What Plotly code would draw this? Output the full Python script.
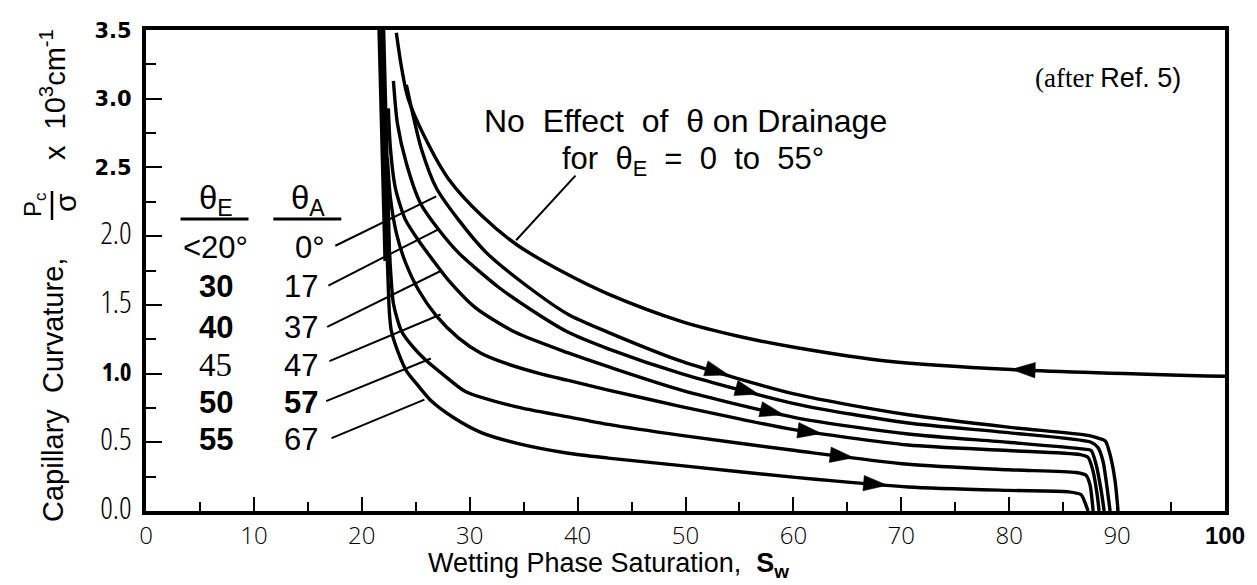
import numpy as np
import plotly.graph_objects as go

# ---------------- data ----------------
# primary drainage curve
drain_sw = [23.2, 23.7, 24.3, 25.9, 28.0, 31.1, 34.5, 39.1, 42.8, 49.6, 55.0, 60.2, 68.8, 80.2, 100.0]
drain_pc = [3.48, 3.22, 3.00, 2.71, 2.42, 2.15, 1.93, 1.72, 1.58, 1.38, 1.27, 1.19, 1.09, 1.03, 0.98]

# imbibition curves, theta_A = 0, 17, 37, 47, 57, 67 deg
imb0_sw = [24.13, 24.69, 25.50, 26.91, 28.95, 31.54, 35.43, 39.14, 42.84, 49.61, 60.17, 70.64, 79.90, 87.31, 88.24, 88.90, 89.35, 89.81, 90.09]
imb0_pc = [3.10, 2.90, 2.64, 2.35, 2.12, 1.88, 1.63, 1.43, 1.30, 1.09, 0.85, 0.70, 0.61, 0.55, 0.53, 0.51, 0.41, 0.22, 0.0]

imb17_sw = [22.93, 23.30, 24.13, 25.43, 27.10, 28.95, 32.65, 36.36, 39.14, 42.84, 49.61, 60.17, 70.64, 79.90, 87.59, 88.24, 88.70, 89.07, 89.35]
imb17_pc = [3.13, 2.82, 2.53, 2.24, 2.05, 1.88, 1.63, 1.43, 1.30, 1.18, 1.00, 0.78, 0.64, 0.57, 0.50, 0.46, 0.36, 0.17, 0.0]

imb37_sw = [22.46, 22.65, 23.11, 24.04, 25.24, 26.45, 28.02, 30.52, 34.23, 39.14, 42.84, 49.61, 60.17, 70.64, 79.90, 86.94, 87.59, 88.05, 88.52, 88.80]
imb37_pc = [2.93, 2.64, 2.35, 2.12, 1.97, 1.84, 1.68, 1.48, 1.30, 1.15, 1.05, 0.88, 0.68, 0.56, 0.50, 0.45, 0.44, 0.34, 0.15, 0.0]

imb47_sw = [22.37, 22.65, 23.21, 24.04, 25.24, 26.91, 28.95, 31.00, 33.50, 36.50, 39.14, 42.84, 49.61, 55.00, 60.17, 70.64, 79.90, 86.57, 87.31, 87.77, 88.15, 88.33]
imb47_pc = [2.57, 2.28, 2.02, 1.81, 1.61, 1.42, 1.26, 1.15, 1.07, 1.00, 0.95, 0.88, 0.76, 0.67, 0.59, 0.48, 0.44, 0.41, 0.39, 0.29, 0.12, 0.0]

imb57_sw = [22.46, 22.65, 22.93, 23.67, 24.78, 25.89, 27.74, 29.60, 34.23, 39.14, 42.84, 49.61, 60.17, 70.64, 79.90, 86.20, 87.12, 87.49, 87.68, 87.78]
imb57_pc = [1.99, 1.77, 1.51, 1.31, 1.19, 1.10, 0.98, 0.87, 0.76, 0.685, 0.63, 0.55, 0.44, 0.34, 0.30, 0.28, 0.26, 0.19, 0.08, 0.0]

imb67_sw = [22.37, 22.46, 22.56, 22.74, 23.39, 24.13, 25.24, 26.45, 28.49, 31.08, 34.50, 39.14, 42.84, 49.61, 60.17, 70.64, 79.90, 85.45, 86.65, 87.03, 87.31]
imb67_pc = [1.82, 1.62, 1.44, 1.31, 1.15, 1.02, 0.91, 0.80, 0.68, 0.57, 0.49, 0.42, 0.385, 0.33, 0.245, 0.175, 0.15, 0.14, 0.12, 0.06, 0.0]

# heavy vertical segment near the irreducible saturation
swi_sw = [21.81, 22.09, 22.37]
swi_pc = [3.50, 2.64, 1.82]

# arrow positions (Sw, centre of arrowhead) on each curve
arrow_imb_sw = [54.0, 56.8, 59.1, 62.6, 65.6, 68.7]
arrow_drain_sw = 80.2

# legend table
theta_E = ["&lt;20°", "30", "40", "45", "50", "55"]
theta_A = ["0°", "17", "37", "47", "57", "67"]

# leader lines from the table to the curves (start / end)
lead_x0 = [17.55, 16.9, 16.8, 17.0, 16.7, 17.2]
lead_y0 = [1.93, 1.64, 1.34, 1.09, 0.80, 0.53]
lead_x1 = [26.9, 27.1, 27.4, 27.3, 26.4, 25.8]
lead_y1 = [2.29, 2.05, 1.75, 1.43, 1.11, 0.81]

drain_note_x = [39.8, 34.3]
drain_note_y = [2.44, 1.97]

x_ticks = [0, 10, 20, 30, 40, 50, 60, 70, 80, 90, 100]
y_ticks = [0.0, 0.5, 1.0, 1.5, 2.0, 2.5, 3.0, 3.5]

# ---------------- figure ----------------
SANS = "Liberation Sans, Arial, sans-serif"
SERIF = "Liberation Serif, Times New Roman, serif"
THIN = "font-family:Open Sans;font-stretch:75%;font-weight:300;font-size:31px"
BOLDN = "font-family:Open Sans;font-stretch:75%;font-weight:700;font-size:25px"
WIDEB = "font-family:DejaVu Sans;font-weight:700;font-size:21px"
XLAB = "font-family:Open Sans;font-weight:300;font-size:24px"

fig = go.Figure()
LW = 3.4
imb = [(imb0_sw, imb0_pc), (imb17_sw, imb17_pc), (imb37_sw, imb37_pc),
       (imb47_sw, imb47_pc), (imb57_sw, imb57_pc), (imb67_sw, imb67_pc)]

fig.add_trace(go.Scatter(x=swi_sw, y=swi_pc, mode="lines",
                         line=dict(color="black", width=8), hoverinfo="skip"))
fig.add_trace(go.Scatter(x=drain_sw, y=drain_pc, mode="lines",
                         line=dict(color="black", width=LW, shape="spline", smoothing=0.9)))
for (sx, sy), lab in zip(imb, theta_A):
    fig.add_trace(go.Scatter(x=sx, y=sy, mode="lines", name=lab,
                             line=dict(color="black", width=LW, shape="spline", smoothing=0.7)))

for x0, y0, x1, y1 in zip(lead_x0, lead_y0, lead_x1, lead_y1):
    fig.add_trace(go.Scatter(x=[x0, x1], y=[y0, y1], mode="lines",
                             line=dict(color="black", width=2)))
fig.add_trace(go.Scatter(x=drain_note_x, y=drain_note_y, mode="lines",
                         line=dict(color="black", width=2)))


# arrowheads: a marker oriented along the curve (angleref="previous")
def add_arrow(sx, sy, at, back):
    tail = at + back
    fig.add_trace(go.Scatter(
        x=[tail, at], y=[float(np.interp(tail, sx, sy)), float(np.interp(at, sx, sy))],
        mode="markers", hoverinfo="skip",
        marker=dict(symbol="arrow", size=[0, 25], angleref="previous", color="black",
                    opacity=1, line=dict(width=0.5, color="black"))))


for (sx, sy), at in zip(imb, arrow_imb_sw):
    add_arrow(sx, sy, at, -1.5)
add_arrow(drain_sw, drain_pc, arrow_drain_sw, 1.5)

ann = []
# table
row_y = [1.914, 1.637, 1.332, 1.062, 0.786, 0.517]
e_style = ["r", "b", "b", "s", "b", "b"]
a_style = ["r", "r", "r", "r", "b", "r"]


def styl(t, s):
    if s == "b":
        return "<b>" + t + "</b>"
    if s == "s":
        return '<span style="font-family:%s;font-size:33px">%s</span>' % (SERIF, t)
    return t


C = dict(xanchor="center", yanchor="middle", showarrow=False)
for i in range(6):
    ann.append(dict(x=6.46, y=row_y[i], xref="x", yref="y", text=styl(theta_E[i], e_style[i]),
                    font=dict(family=SANS, size=31, color="black"), **C))
    ann.append(dict(x=15.24 if i == 0 else 14.4, y=row_y[i], xref="x", yref="y",
                    text=styl(theta_A[i], a_style[i]),
                    font=dict(family=SANS, size=31, color="black"), **C))
ann.append(dict(x=6.53, y=2.26, xref="x", yref="y", text="θ<sub>E</sub>",
                font=dict(family=SANS, size=33, color="black"), **C))
ann.append(dict(x=15.05, y=2.26, xref="x", yref="y", text="θ<sub>A</sub>",
                font=dict(family=SANS, size=33, color="black"), **C))

ann.append(dict(x=50.0, y=2.84, xref="x", yref="y", text="No  Effect  of  θ on Drainage",
                font=dict(family=SANS, size=32, color="black"), **C))
ann.append(dict(x=50.7, y=2.55, xref="x", yref="y", text="for  θ<sub>E</sub>  =  0  to  55°",
                font=dict(family=SANS, size=31, color="black"), **C))
ann.append(dict(x=89.2, y=3.15, xref="x", yref="y",
                text='(after <span style="font-family:%s">Ref. 5)</span>' % SANS,
                font=dict(family=SERIF, size=27, color="black"), **C))


def px(v):
    return (v - 138) / 1079.0


def py(v):
    return (503 - v) / 481.0


# axis titles
ann.append(dict(x=px(600), y=py(557), xref="paper", yref="paper",
                text="Wetting Phase Saturation,  <b>S<sub>w</sub></b>",
                font=dict(family=SANS, size=27, color="black"), **C))
ann.append(dict(x=px(45), y=py(382), xref="paper", yref="paper", textangle=-90,
                text="Capillary  Curvature,", font=dict(family=SANS, size=29, color="black"), **C))
ann.append(dict(x=px(27), y=py(197), xref="paper", yref="paper", textangle=-90,
                text="P<sub>c</sub>", font=dict(family=SANS, size=24, color="black"), **C))
ann.append(dict(x=px(58), y=py(195), xref="paper", yref="paper", textangle=-90,
                text="σ", font=dict(family=SANS, size=30, color="black"), **C))
ann.append(dict(x=px(45), y=py(87), xref="paper", yref="paper", textangle=-90,
                text="x  10<sup>3</sup>cm<sup>-1</sup>", font=dict(family=SANS, size=29, color="black"), **C))

shapes = [
    dict(type="line", xref="paper", yref="paper", x0=px(44), x1=px(44), y0=py(183), y1=py(212),
         line=dict(color="black", width=2.5)),
    dict(type="line", xref="x", yref="y", x0=3.2, x1=9.5, y0=2.125, y1=2.125,
         line=dict(color="black", width=3)),
    dict(type="line", xref="x", yref="y", x0=11.8, x1=18.1, y0=2.125, y1=2.125,
         line=dict(color="black", width=3)),
]

# tick labels with the mixed styles of the original
y_style = ["t", "t", "bn", "t", "t", "b", "b", "b"]
y_text = []
for v, s in zip(y_ticks, y_style):
    t = "%.1f" % v
    st = {"t": THIN, "bn": BOLDN, "b": WIDEB}[s]
    y_text.append('<span style="%s">%s</span>' % (st, t))
x_text = ['<span style="%s">%s</span>' % (XLAB, v) for v in x_ticks]
x_text[-1] = "<b>100</b>"

fig.update_layout(
    template="none",
    width=1257, height=585,
    margin=dict(l=138, r=40, t=22, b=82, autoexpand=False),
    paper_bgcolor="white", plot_bgcolor="white",
    showlegend=False,
    annotations=ann, shapes=shapes,
    xaxis=dict(range=[0, 100], tickmode="array", tickvals=x_ticks, ticktext=x_text,
               ticks="inside", ticklen=14, tickwidth=2, tickcolor="black",
               minor=dict(dtick=5, tick0=0, ticks="inside", ticklen=9, tickwidth=2, tickcolor="black"),
               showline=True, linewidth=4, linecolor="black", mirror=True, automargin=False,
               showgrid=False, zeroline=False, ticklabelstandoff=0,
               tickfont=dict(family=SANS, size=24, color="black")),
    yaxis=dict(range=[0, 3.5], tickmode="array", tickvals=y_ticks, ticktext=y_text,
               ticks="inside", ticklen=16, tickwidth=2, tickcolor="black",
               minor=dict(dtick=0.25, tick0=0, ticks="inside", ticklen=10, tickwidth=2, tickcolor="black"),
               showline=True, linewidth=4, linecolor="black", mirror=True, automargin=False,
               showgrid=False, zeroline=False, ticklabelstandoff=6,
               tickfont=dict(family=SANS, size=22, color="black")),
)

fig.write_html("out.html")
